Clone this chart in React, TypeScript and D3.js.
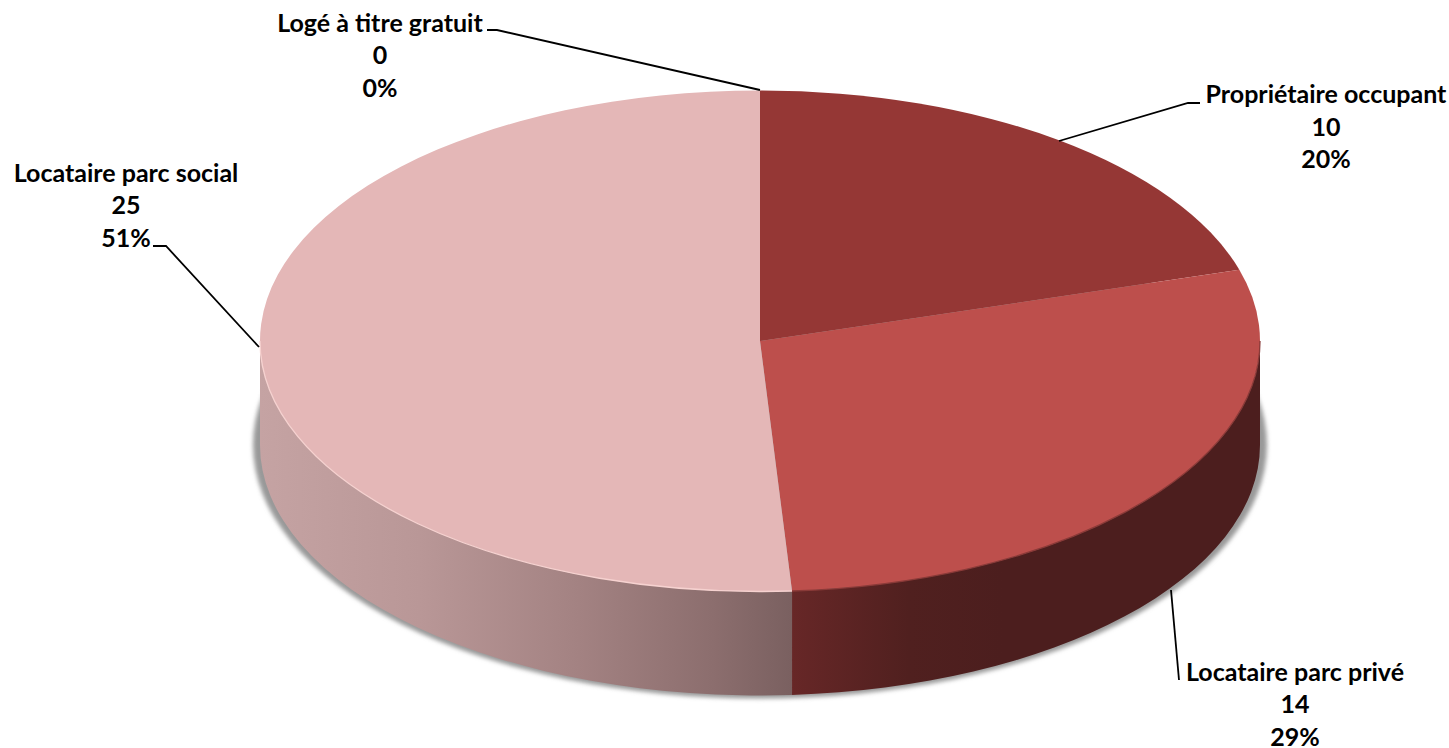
import React from "react";
import * as d3 from "d3";

const categories = ["Propriétaire occupant", "Locataire parc privé", "Locataire parc social", "Logé à titre gratuit"];
const values = [10, 14, 25, 0];
const percents = ["20%", "29%", "51%", "0%"];
const topColors = ["#953735", "#BD4F4C", "#E4B7B7", "#7F9F3F"];
const wallFills = ["none", "url(#wall1)", "url(#wall0)", "none"];
const rimColors = ["#8A3A38", "#8A3A38", "#F6D2D0", "none"];
const labelCenters = [[1326, 103], [1295, 680.5], [126, 181.5], [380, 31.5]];
const leaders = [
  [[1200, 103], [1188, 103], [1059, 141]],
  [[1179, 680], [1171, 590]],
  [[153, 246], [166, 246], [259, 347]],
  [[487, 30], [497, 30], [760, 90]],
];

const W = 1449, H = 748;
const cx = 760, cy = 341, rx = 500, ry = 250.5, depth = 104;
const LINE = 32.5;

const pieGen = d3.pie<number>().sort(null).value((d) => d);
const arcs = pieGen(values);
const px = d3.scaleLinear().domain([-1, 1]).range([cx - rx, cx + rx]);
const py = d3.scaleLinear().domain([-1, 1]).range([cy - ry, cy + ry]);
const ex = (a: number) => px(Math.sin(a));
const ey = (a: number) => py(-Math.cos(a));

function wallPath(a0: number, a1: number) {
  const s = Math.max(a0, Math.PI / 2), e = Math.min(a1, (3 * Math.PI) / 2);
  if (e <= s) return "";
  const sweep = e - s > Math.PI ? 1 : 0;
  return `M${ex(s)},${ey(s)}A${rx},${ry} 0 ${sweep} 1 ${ex(e)},${ey(e)}L${ex(e)},${ey(e) + depth}A${rx},${ry} 0 ${sweep} 0 ${ex(s)},${ey(s) + depth}Z`;
}
function topPath(a0: number, a1: number) {
  if (a1 - a0 <= 0) return "";
  const large = a1 - a0 > Math.PI ? 1 : 0;
  return `M${cx},${cy}L${ex(a0)},${ey(a0)}A${rx},${ry} 0 ${large} 1 ${ex(a1)},${ey(a1)}Z`;
}
function rimPath(a0: number, a1: number) {
  const s = Math.max(a0, Math.PI / 2), e = Math.min(a1, (3 * Math.PI) / 2);
  if (e <= s) return "";
  return `M${ex(s)},${ey(s)}A${rx},${ry} 0 ${e - s > Math.PI ? 1 : 0} 1 ${ex(e)},${ey(e)}`;
}
const line = d3.line();

export default function App() {
  return (
    <svg width={W} height={H} style={{ position: "absolute", left: 0, top: 0, background: "#fff" }}>
      <defs>
        <filter id="blur" x="-5%" y="-5%" width="110%" height="110%">
          <feGaussianBlur stdDeviation="2.2" />
        </filter>
        <linearGradient id="wall0" gradientUnits="userSpaceOnUse" x1={260} x2={792} y1={0} y2={0}>
          <stop offset="0" stopColor="#C5A3A3" />
          <stop offset="0.3" stopColor="#B99797" />
          <stop offset="0.6" stopColor="#A38282" />
          <stop offset="0.85" stopColor="#8C6E6E" />
          <stop offset="1" stopColor="#7A6060" />
        </linearGradient>
        <linearGradient id="wall1" gradientUnits="userSpaceOnUse" x1={792} x2={1260} y1={0} y2={0}>
          <stop offset="0" stopColor="#672727" />
          <stop offset="0.25" stopColor="#50201F" />
          <stop offset="0.45" stopColor="#4C1E1E" />
          <stop offset="1" stopColor="#4C1E1E" />
        </linearGradient>
      </defs>
      <ellipse cx={cx} cy={cy + depth} rx={rx + 7} ry={ry + 3} fill="#999" filter="url(#blur)" />
      {arcs.map((a, i) => {
        const d = wallPath(a.startAngle, a.endAngle);
        return d ? <path key={i} d={d} fill={wallFills[i]} /> : null;
      })}
      {arcs.map((a, i) => {
        const d = topPath(a.startAngle, a.endAngle);
        return d ? <path key={i} d={d} fill={topColors[i]} /> : null;
      })}
      {arcs.map((a, i) => {
        const d = rimPath(a.startAngle, a.endAngle);
        return d ? <path key={i} d={d} fill="none" stroke={rimColors[i]} strokeWidth={1.3} /> : null;
      })}
      {leaders.map((pts, i) => (
        <path key={i} d={line(pts as [number, number][]) ?? ""} fill="none" stroke="#000" strokeWidth={1.8} />
      ))}
      {categories.map((c, i) => (
        <text key={c} x={labelCenters[i][0]} y={labelCenters[i][1]} textAnchor="middle"
          fontFamily="Lato, Carlito, sans-serif" fontWeight={700} fontSize={25} fill="#000">
          <tspan x={labelCenters[i][0]}>{c}</tspan>
          <tspan x={labelCenters[i][0]} dy={LINE}>{values[i]}</tspan>
          <tspan x={labelCenters[i][0]} dy={LINE}>{percents[i]}</tspan>
        </text>
      ))}
    </svg>
  );
}
